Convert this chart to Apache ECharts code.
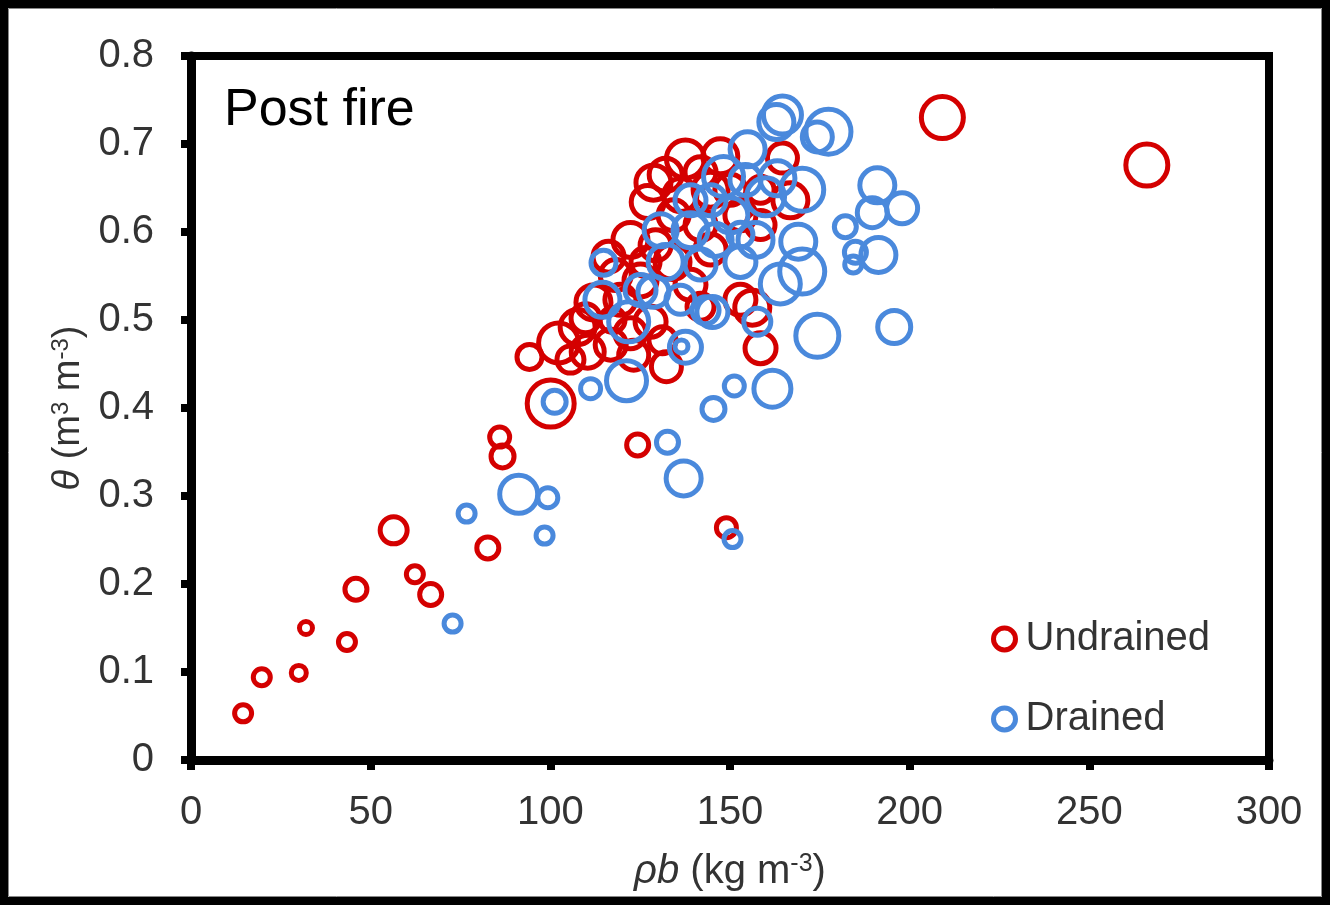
<!DOCTYPE html>
<html>
<head>
<meta charset="utf-8">
<script src="https://cdn.jsdelivr.net/npm/echarts@6/dist/echarts.min.js"></script>
<style>
html,body{margin:0;padding:0;background:#fff;}
#chart{width:1330px;height:905px;}
</style>
</head>
<body>
<div id="chart"></div>
<script>
// ---- data: [rho_b (kg m-3), theta (m3 m-3), bubble value] ----
var seriesNames = ['Undrained', 'Drained'];
var xTicks = ['0', '50', '100', '150', '200', '250', '300'];
var yTicks = ['0', '0.1', '0.2', '0.3', '0.4', '0.5', '0.6', '0.7', '0.8'];

var undrained = [
  [14.5, 0.053, 5.5], [19.7, 0.094, 5.5], [30.0, 0.099, 5], [32.0, 0.150, 4.5],
  [43.4, 0.134, 5.5], [45.9, 0.194, 6.75], [56.4, 0.261, 8], [62.3, 0.211, 5.5],
  [66.7, 0.188, 6.75], [82.6, 0.241, 6.75], [85.9, 0.367, 6.25], [86.7, 0.345, 7],
  [124.3, 0.358, 6.75], [149.0, 0.264, 6.25], [209.1, 0.730, 11.75], [266.0, 0.676, 11.75],
  [94.2, 0.458, 7.5], [100.1, 0.405, 13], [132.3, 0.447, 8.75], [158.5, 0.468, 9],
  [156.2, 0.514, 10], [152.9, 0.523, 9],
  [137.6, 0.683, 10.75], [147.3, 0.686, 10], [128.7, 0.656, 10], [127.1, 0.634, 9.5],
  [144.6, 0.648, 10], [164.6, 0.684, 8.75], [166.8, 0.636, 10], [122.3, 0.591, 10],
  [116.2, 0.572, 9], [112.0, 0.520, 10], [107.6, 0.492, 10], [102.3, 0.474, 11.25],
  [110.4, 0.464, 9.5], [123.2, 0.460, 8.75], [122.3, 0.485, 9], [134.0, 0.566, 10],
  [144.6, 0.580, 9], [134.3, 0.619, 9], [125.1, 0.545, 9.5], [139.0, 0.540, 9],
  [141.8, 0.515, 8], [119.5, 0.523, 9], [152.9, 0.619, 9], [158.5, 0.648, 8],
  [129.3, 0.585, 9], [117.3, 0.500, 7.5],
  [132.1, 0.665, 9.5], [141.8, 0.668, 9], [136.2, 0.642, 9.5], [118.2, 0.551, 9],
  [109.8, 0.502, 8.5], [116.8, 0.472, 9], [127.9, 0.498, 9], [131.2, 0.477, 8],
  [141.8, 0.608, 9], [150.1, 0.648, 9], [158.5, 0.608, 8.5], [126.5, 0.566, 8.5],
  [105.6, 0.455, 8]
];

var drained = [
  [164.6, 0.733, 10.75], [162.9, 0.725, 10], [177.4, 0.714, 12.5], [174.3, 0.708, 8.75],
  [154.9, 0.694, 10], [163.2, 0.661, 10], [170.1, 0.648, 12], [148.2, 0.663, 11.25],
  [159.9, 0.640, 10.75], [157.1, 0.591, 10], [169.0, 0.589, 10], [191.0, 0.653, 10],
  [189.6, 0.622, 8.75], [182.1, 0.606, 6.75], [197.9, 0.627, 9], [164.0, 0.541, 11.25],
  [170.1, 0.555, 12.5], [184.3, 0.563, 5.5], [191.3, 0.574, 10], [174.3, 0.482, 12],
  [195.7, 0.492, 9.5], [145.1, 0.509, 9], [157.6, 0.498, 8], [151.2, 0.425, 6.25],
  [161.8, 0.422, 10.5], [145.4, 0.399, 7], [137.1, 0.320, 10], [132.6, 0.361, 6.75],
  [150.7, 0.251, 5.5], [91.2, 0.302, 10.75], [99.3, 0.298, 6.25], [98.4, 0.255, 5.5],
  [76.7, 0.280, 5.5], [72.8, 0.155, 5.5], [101.2, 0.407, 7], [111.2, 0.422, 6.25],
  [121.2, 0.431, 11.25], [137.6, 0.469, 9.25], [136.5, 0.470, 4.5], [114.5, 0.523, 10],
  [114.8, 0.565, 7.5], [121.8, 0.498, 11.25], [128.7, 0.532, 9], [143.2, 0.511, 8],
  [139.0, 0.602, 10], [132.1, 0.566, 10], [125.1, 0.534, 9], [144.6, 0.636, 9],
  [150.1, 0.619, 10], [141.8, 0.563, 9], [184.9, 0.577, 6.75], [130.7, 0.602, 9.5],
  [154.3, 0.659, 9],
  [139.0, 0.636, 9], [146.0, 0.591, 9.5], [152.9, 0.566, 9], [136.2, 0.523, 8.5],
  [152.9, 0.597, 7.5]
];

var RED = '#d40000';
var BLUE = '#4a89dc';
var FONT = 'Liberation Sans, Arial, sans-serif';
var TXT = '#333';
var RING = 5;

function bubble(v) { return v[2] * 4 - RING; }

var chart = echarts.init(document.getElementById('chart'), null, {renderer: 'canvas'});
chart.setOption({
  backgroundColor: '#fff',
  animation: false,
  title: {
    text: 'Post fire', left: 219, top: 80,
    textStyle: {fontFamily: FONT, fontSize: 52, fontWeight: 'normal', color: '#000'}
  },
  grid: {
    left: 191, right: 61, top: 56, bottom: 145,
    show: true, borderColor: '#000', borderWidth: 8, backgroundColor: 'transparent'
  },
  legend: {
    orient: 'vertical', left: 986, top: 614,
    itemWidth: 22, itemHeight: 22, itemGap: 40,
    textStyle: {fontFamily: FONT, fontSize: 40, color: TXT, padding: [0, 0, 0, 5]},
    selectedMode: false,
    data: [
      {name: seriesNames[0], icon: 'circle', itemStyle: {color: '#fff', borderColor: RED, borderWidth: RING}},
      {name: seriesNames[1], icon: 'circle', itemStyle: {color: '#fff', borderColor: BLUE, borderWidth: RING}}
    ]
  },
  xAxis: {
    type: 'value', min: 0, max: 300, interval: 50,
    splitLine: {show: false},
    axisLine: {show: true, lineStyle: {color: '#000', width: 9}},
    axisTick: {show: true, inside: false, length: 10, lineStyle: {color: '#000', width: 8}},
    axisLabel: {
      margin: 33, fontFamily: FONT, fontSize: 40, color: TXT,
      formatter: function (v) { return xTicks[Math.round(v / 50)]; }
    },
    name: '{i|ρb} (kg m{s|-3})', nameLocation: 'middle', nameGap: 92,
    nameTextStyle: {
      fontFamily: FONT, fontSize: 40, color: TXT,
      rich: {
        i: {fontFamily: FONT, fontSize: 40, fontStyle: 'italic', color: TXT},
        s: {fontFamily: FONT, fontSize: 25, color: TXT, verticalAlign: 'top', padding: [0, 0, 15, 0]}
      }
    }
  },
  yAxis: {
    type: 'value', min: 0, max: 0.8, interval: 0.1,
    splitLine: {show: false},
    axisLine: {show: true, lineStyle: {color: '#000', width: 9}},
    axisTick: {show: true, inside: false, length: 10, lineStyle: {color: '#000', width: 8}},
    axisLabel: {
      margin: 37, fontFamily: FONT, fontSize: 40, color: TXT,
      formatter: function (v) { return yTicks[Math.round(v * 10)]; }
    },
    name: '{i|θ} (m{s|3} m{s|-3})', nameLocation: 'middle', nameGap: 98, nameRotate: 90,
    nameTextStyle: {
      fontFamily: FONT, fontSize: 38, color: TXT,
      rich: {
        i: {fontFamily: FONT, fontSize: 38, fontStyle: 'italic', color: TXT},
        s: {fontFamily: FONT, fontSize: 24, color: TXT, verticalAlign: 'top', padding: [0, 0, 14, 0]}
      }
    }
  },
  graphic: [
    {type: 'rect', shape: {x: 0, y: 0, width: 1330, height: 905}, silent: true, z: 100,
     style: {fill: 'none', stroke: '#000', lineWidth: 16}},
    {type: 'rect', shape: {x: 8.5, y: 8.5, width: 1313, height: 888}, silent: true, z: 100,
     style: {fill: 'none', stroke: '#888', lineWidth: 1}}
  ],
  series: [
    {
      name: seriesNames[0], type: 'scatter', data: undrained,
      symbol: 'circle', symbolSize: bubble,
      itemStyle: {color: 'rgba(0,0,0,0)', borderColor: RED, borderWidth: RING, opacity: 1},
      emphasis: {disabled: true}
    },
    {
      name: seriesNames[1], type: 'scatter', data: drained,
      symbol: 'circle', symbolSize: bubble,
      itemStyle: {color: 'rgba(0,0,0,0)', borderColor: BLUE, borderWidth: RING, opacity: 1},
      emphasis: {disabled: true}
    }
  ]
});
</script>
</body>
</html>
